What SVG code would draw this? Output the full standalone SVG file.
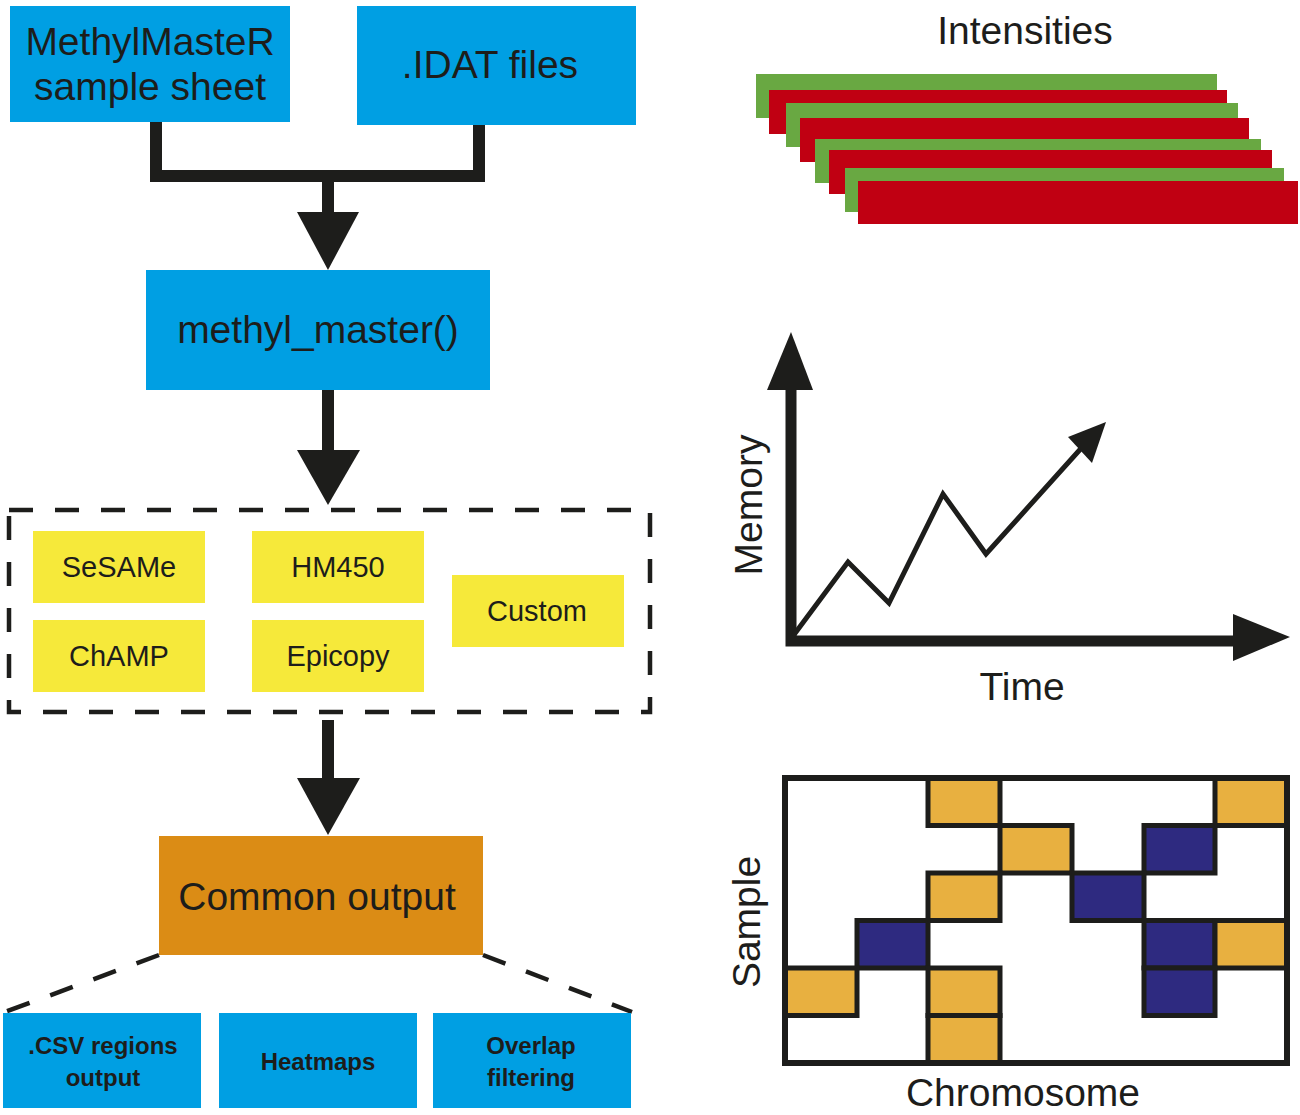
<svg xmlns="http://www.w3.org/2000/svg" width="1300" height="1115" viewBox="0 0 1300 1115">
<style>
text{font-family:"Liberation Sans",Arial,sans-serif;fill:#1d1d1b;text-anchor:middle}
.blue{fill:#009fe3}
.yel{fill:#f6e93a}
.org{fill:#db8c15}
.big{font-size:39px}
.mid{font-size:29px}
.sm{font-size:24px;font-weight:bold}
.flow{fill:none;stroke:#1d1d1b;stroke-width:12}
.head{fill:#1d1d1b}
.dash{fill:none;stroke:#1d1d1b;stroke-width:4.5;stroke-dasharray:24 22}
.g{fill:#69a842}
.r{fill:#c00012}
.cy{fill:#e8b040;stroke:#1d1d1b;stroke-width:5}
.cn{fill:#2e2a80;stroke:#1d1d1b;stroke-width:5}
</style>

<g id="connectors">
  <path class="flow" d="M156,122 V176 H479 V125"/>
  <path class="flow" d="M328,176 V215"/>
  <polygon class="head" points="297,212 359,212 328,270"/>
  <path class="flow" d="M328,390 V455"/>
  <polygon class="head" points="297,450 360,450 328,505"/>
  <path class="flow" d="M328,720 V782"/>
  <polygon class="head" points="297,778 360,778 328,835"/>
  <path class="dash" d="M159,955 L5,1012"/>
  <path class="dash" d="M483,955 L632,1012"/>
</g>

<g id="sample-sheet">
  <rect class="blue" x="10" y="6" width="280" height="116"/>
  <text class="big" x="150" y="55">MethylMasteR</text>
  <text class="big" x="150" y="100">sample sheet</text>
</g>
<g id="idat-files">
  <rect class="blue" x="357" y="6" width="279" height="119"/>
  <text class="big" x="490" y="78">.IDAT files</text>
</g>
<g id="methyl-master">
  <rect class="blue" x="146" y="270" width="344" height="120"/>
  <text class="big" x="318" y="343">methyl_master()</text>
</g>

<g id="pipelines">
  <rect class="dash" x="9" y="510" width="641" height="202"/>
  <g id="sesame"><rect class="yel" x="33" y="531" width="172" height="72"/><text class="mid" x="119" y="577">SeSAMe</text></g>
  <g id="hm450"><rect class="yel" x="252" y="531" width="172" height="72"/><text class="mid" x="338" y="577">HM450</text></g>
  <g id="champ"><rect class="yel" x="33" y="620" width="172" height="72"/><text class="mid" x="119" y="666">ChAMP</text></g>
  <g id="epicopy"><rect class="yel" x="252" y="620" width="172" height="72"/><text class="mid" x="338" y="666">Epicopy</text></g>
  <g id="custom"><rect class="yel" x="452" y="575" width="172" height="72"/><text class="mid" x="537" y="621">Custom</text></g>
</g>

<g id="common-output">
  <rect class="org" x="159" y="836" width="324" height="119"/>
  <text class="big" x="317" y="910">Common output</text>
</g>

<g id="csv-output">
  <rect class="blue" x="3" y="1013" width="198" height="95"/>
  <text class="sm" x="103" y="1054">.CSV regions</text>
  <text class="sm" x="103" y="1086">output</text>
</g>
<g id="heatmaps">
  <rect class="blue" x="219" y="1013" width="198" height="95"/>
  <text class="sm" x="318" y="1070">Heatmaps</text>
</g>
<g id="overlap-filtering">
  <rect class="blue" x="433" y="1013" width="198" height="95"/>
  <text class="sm" x="531" y="1054">Overlap</text>
  <text class="sm" x="531" y="1086">filtering</text>
</g>

<g id="intensities">
  <text class="big" x="1025" y="44">Intensities</text>
  <rect class="g" x="756" y="74" width="461" height="44"/>
  <rect class="r" x="769" y="90" width="458" height="44"/>
  <rect class="g" x="786" y="103" width="452" height="44"/>
  <rect class="r" x="800" y="118" width="449" height="44"/>
  <rect class="g" x="815" y="139" width="446" height="44"/>
  <rect class="r" x="829" y="150" width="443" height="44"/>
  <rect class="g" x="845" y="168" width="439" height="44"/>
  <rect class="r" x="858" y="181" width="440" height="43"/>
</g>

<g id="memory-chart">
  <path d="M791,380 V641 H1240" fill="none" stroke="#1d1d1b" stroke-width="11"/>
  <polygon class="head" points="791,332 813,390 767,390"/>
  <polygon class="head" points="1290,637 1233,614 1233,661"/>
  <polyline points="793,636 848,562 889,603 943,494 986,554 1085,444" fill="none" stroke="#1d1d1b" stroke-width="5" stroke-linejoin="miter"/>
  <polygon class="head" points="1106,422 1068,437 1092,463"/>
  <text class="big" x="1022" y="700">Time</text>
  <text class="big" transform="translate(762,505) rotate(-90)">Memory</text>
</g>

<g id="heatmap-chart">
  <rect x="785" y="778" width="502" height="285" fill="#fff" stroke="#1d1d1b" stroke-width="6"/>
  <rect class="cy" x="928" y="778" width="72" height="47.5"/>
  <rect class="cy" x="1215" y="778" width="72" height="47.5"/>
  <rect class="cy" x="1000" y="825.5" width="72" height="47.5"/>
  <rect class="cn" x="1144" y="825.5" width="71" height="47.5"/>
  <rect class="cy" x="928" y="873" width="72" height="47.5"/>
  <rect class="cn" x="1072" y="873" width="72" height="47.5"/>
  <rect class="cn" x="857" y="920.5" width="71" height="47.5"/>
  <rect class="cn" x="1144" y="920.5" width="71" height="47.5"/>
  <rect class="cy" x="1215" y="920.5" width="72" height="47.5"/>
  <rect class="cy" x="785" y="968" width="72" height="47.5"/>
  <rect class="cy" x="928" y="968" width="72" height="47.5"/>
  <rect class="cn" x="1144" y="968" width="71" height="47.5"/>
  <rect class="cy" x="928" y="1015.5" width="72" height="47.5"/>
  <rect x="785" y="778" width="502" height="285" fill="none" stroke="#1d1d1b" stroke-width="6"/>
  <text class="big" x="1023" y="1106">Chromosome</text>
  <text class="big" transform="translate(760,922) rotate(-90)">Sample</text>
</g>
</svg>
